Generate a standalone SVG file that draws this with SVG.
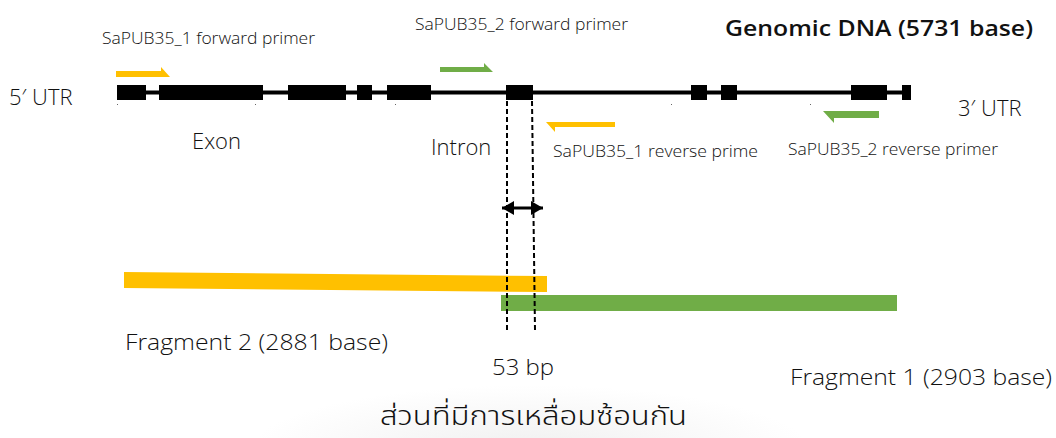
<svg xmlns="http://www.w3.org/2000/svg" width="1056" height="438" viewBox="0 0 1056 438">
<style>
text{font-family:"Open Sans","Noto Sans","DejaVu Sans",sans-serif;fill:#111;font-weight:300}
.s{font-size:16px;font-weight:350}
.m{font-size:22px}
.exon{fill:#000}
.orange{fill:#FFC000}
.green{fill:#70AD47}
.dash{stroke:#000;stroke-width:2;stroke-dasharray:5 3;fill:none}
.th{font-family:"Noto Sans Thai","Noto Sans Thai Looped","Noto Sans","DejaVu Sans",sans-serif;font-size:27px;font-weight:300}
</style>
<defs>
<radialGradient id="wm" cx="0.5" cy="0.5" r="0.5">
<stop offset="0" stop-color="#f0f0f0"/>
<stop offset="1" stop-color="#ffffff"/>
</radialGradient>
<marker id="ah" viewBox="0 0 12 14" refX="12" refY="7" markerWidth="12" markerHeight="14" markerUnits="userSpaceOnUse" orient="auto-start-reverse">
<path d="M0,0 L12,7 L0,14 Z" fill="#000"/>
</marker>
</defs>
<rect width="1056" height="438" fill="#fff"/>
<ellipse cx="530" cy="450" rx="280" ry="65" fill="url(#wm)"/>

<g id="gene">
<rect x="117" y="90.5" width="794" height="4" class="exon"/>
<rect x="117" y="85" width="29" height="15" class="exon"/>
<rect x="159" y="85" width="104" height="15" class="exon"/>
<rect x="288" y="85" width="58" height="15" class="exon"/>
<rect x="357" y="85" width="15" height="15" class="exon"/>
<rect x="387" y="85" width="44" height="15" class="exon"/>
<rect x="506" y="85" width="27" height="15" class="exon"/>
<rect x="691" y="85" width="16" height="15" class="exon"/>
<rect x="721" y="85" width="16" height="15" class="exon"/>
<rect x="851" y="85" width="36" height="15" class="exon"/>
<rect x="902" y="85" width="9" height="15" class="exon"/>
<rect x="117" y="104" width="1" height="1" fill="#666"/>
<rect x="255" y="104" width="1" height="1" fill="#666"/>
<rect x="395" y="104" width="1" height="1" fill="#666"/>
<rect x="671" y="104" width="1" height="1" fill="#666"/>
<rect x="810" y="104" width="1" height="1" fill="#666"/>
</g>

<g id="primer-f1"><polygon class="orange" points="116,71 161,71 161,67 170,77 116,77"/></g>
<g id="primer-f2"><polygon class="green" points="440,67 484,67 484,63 493,72 440,72"/></g>
<g id="primer-r1"><polygon class="orange" points="546,122 615,122 615,127 555,127 555,132"/></g>
<g id="primer-r2"><polygon class="green" points="823,111 879,111 879,118 834,118 834,123"/></g>

<g id="fragment2"><polygon class="orange" points="124,272 547,276 547,292 124,288"/></g>
<g id="fragment1"><rect x="501" y="295" width="396" height="16" class="green"/></g>

<g id="connectors">
<line x1="507" y1="101" x2="507" y2="330" class="dash"/>
<line x1="532" y1="101" x2="535" y2="330" class="dash"/>
<line x1="502" y1="208" x2="543" y2="208" stroke="#000" stroke-width="3" marker-start="url(#ah)" marker-end="url(#ah)"/>
</g>

<g id="labels">
<text class="s" x="102" y="44" textLength="213" lengthAdjust="spacingAndGlyphs">SaPUB35_1 forward primer</text>
<text class="s" x="415" y="30" textLength="213" lengthAdjust="spacingAndGlyphs">SaPUB35_2 forward primer</text>
<text x="725" y="36" style="font-size:21px;font-weight:600" textLength="308" lengthAdjust="spacingAndGlyphs">Genomic DNA (5731 base)</text>
<text class="m" x="9" y="105">5′ UTR</text>
<text class="m" x="958" y="116">3′ UTR</text>
<text class="m" x="192" y="149">Exon</text>
<text class="m" x="431" y="155">Intron</text>
<text class="s" x="553" y="157" textLength="205" lengthAdjust="spacingAndGlyphs">SaPUB35_1 reverse prime</text>
<text class="s" x="788" y="155" textLength="210" lengthAdjust="spacingAndGlyphs">SaPUB35_2 reverse primer</text>
<text class="m" x="125" y="350" textLength="263" lengthAdjust="spacingAndGlyphs">Fragment 2 (2881 base)</text>
<text class="m" x="492" y="375" textLength="62" lengthAdjust="spacingAndGlyphs">53 bp</text>
<text class="m" x="790" y="385" textLength="262" lengthAdjust="spacingAndGlyphs">Fragment 1 (2903 base)</text>
<text class="th" x="380" y="425" textLength="307" lengthAdjust="spacingAndGlyphs">ส่วนที่มีการเหลื่อมซ้อนกัน</text>
</g>
</svg>
